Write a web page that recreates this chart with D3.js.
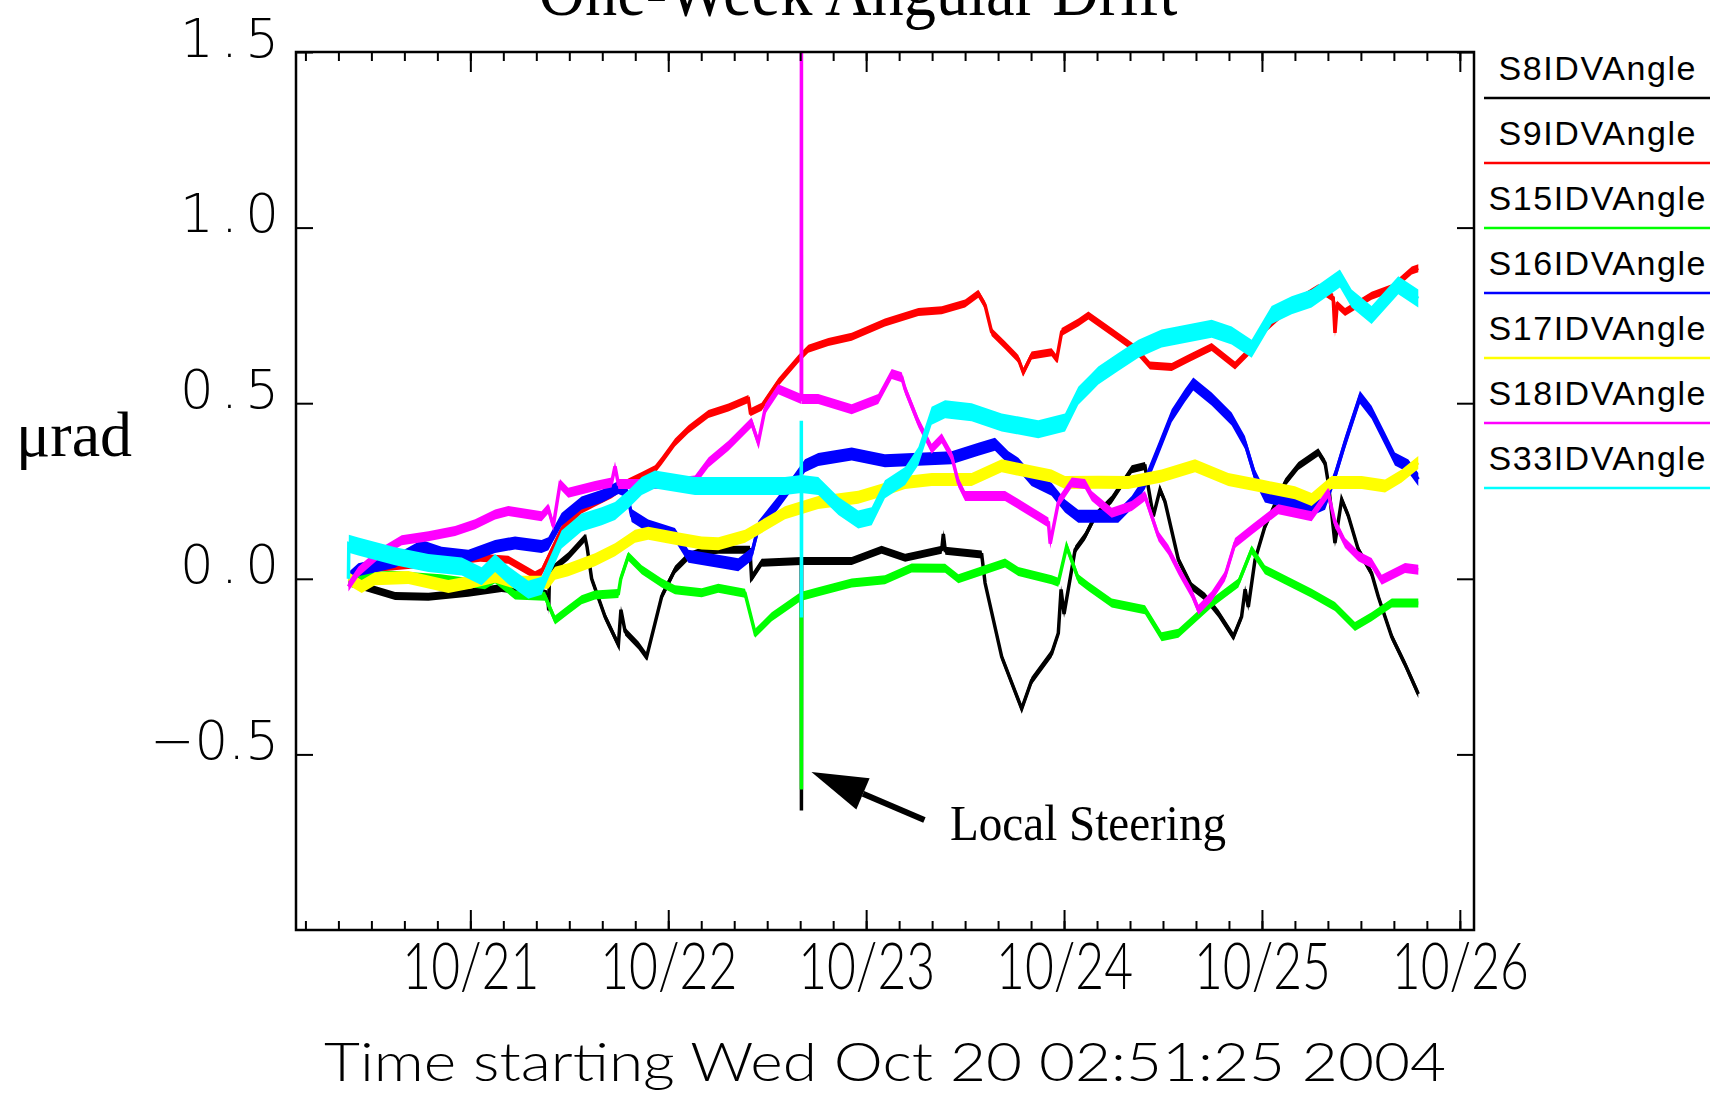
<!DOCTYPE html>
<html>
<head>
<meta charset="utf-8">
<script src="https://cdn.jsdelivr.net/npm/d3@7"></script>
<style>
  body { margin: 0; background: #fff; }
  svg { display: block; }
</style>
</head>
<body>
<div id="chart"></div>
<script>
/* global d3 */
// legend order is also the draw order
var seriesNames = ["S8IDVAngle", "S9IDVAngle", "S15IDVAngle", "S16IDVAngle", "S17IDVAngle", "S18IDVAngle", "S33IDVAngle"];
var seriesColors = ["#000000", "#ff0000", "#00ff00", "#0000ff", "#ffff00", "#ff00ff", "#00ffff"];

// points: [day of October 2004 (fractional, UTC), angle in urad]
var s8 = [[20.384, -0.01], [20.485, -0.026], [20.62, -0.049], [20.788, -0.051], [20.99, -0.04], [21.158, -0.026],
    [21.36, -0.04], [21.39, -0.045], [21.396, -0.09], [21.40, 0.02], [21.495, 0.064], [21.58, 0.117], [21.59, 0.09],
    [21.613, 0.0], [21.681, -0.108], [21.748, -0.188], [21.761, -0.088], [21.782, -0.15], [21.85, -0.19], [21.891, -0.222],
    [21.933, -0.127], [21.967, -0.05], [22.034, 0.026], [22.102, 0.064], [22.169, 0.078], [22.253, 0.083], [22.413, 0.083],
    [22.421, 0.002], [22.472, 0.046], [22.672, 0.051], [22.673, -0.66], [22.674, 0.051], [22.927, 0.051], [23.078, 0.083],
    [23.197, 0.06], [23.382, 0.083], [23.39, 0.128], [23.40, 0.08], [23.584, 0.069], [23.601, -0.012], [23.685, -0.222],
    [23.786, -0.37], [23.836, -0.29], [23.937, -0.213], [23.971, -0.155], [23.985, -0.03], [24.0, -0.1], [24.056, 0.083],
    [24.106, 0.121], [24.157, 0.178], [24.241, 0.226], [24.342, 0.312], [24.409, 0.321], [24.426, 0.26], [24.451, 0.178],
    [24.485, 0.254], [24.51, 0.22], [24.578, 0.054], [24.645, -0.022], [24.712, -0.051], [24.78, -0.099], [24.856, -0.165],
    [24.897, -0.108], [24.915, -0.03], [24.931, -0.08], [24.965, 0.054], [25.015, 0.149], [25.117, 0.274], [25.184, 0.321],
    [25.285, 0.36], [25.319, 0.33], [25.335, 0.274], [25.369, 0.102], [25.403, 0.226], [25.436, 0.18], [25.487, 0.083],
    [25.554, 0.016], [25.588, -0.051], [25.656, -0.165], [25.723, -0.243], [25.79, -0.328]];
var s9 = [[20.384, 0.0], [20.5, 0.03], [20.7, 0.04], [20.9, 0.05], [21.05, 0.06], [21.192, 0.054], [21.327, 0.01],
    [21.36, 0.02], [21.461, 0.14], [21.562, 0.197], [21.63, 0.217], [21.714, 0.241], [21.798, 0.274], [21.866, 0.293],
    [21.933, 0.312], [21.967, 0.336], [22.034, 0.388], [22.102, 0.426], [22.203, 0.469], [22.304, 0.488], [22.405, 0.512],
    [22.415, 0.474], [22.472, 0.49], [22.556, 0.56], [22.657, 0.626], [22.708, 0.655], [22.809, 0.674], [22.927, 0.689],
    [23.095, 0.73], [23.264, 0.76], [23.382, 0.765], [23.5, 0.784], [23.567, 0.812], [23.601, 0.779], [23.634, 0.703],
    [23.702, 0.665], [23.769, 0.626], [23.794, 0.588], [23.836, 0.636], [23.937, 0.645], [23.963, 0.626], [23.988, 0.703],
    [24.072, 0.73], [24.123, 0.75], [24.241, 0.703], [24.359, 0.655], [24.434, 0.607], [24.544, 0.603], [24.628, 0.627],
    [24.746, 0.66], [24.864, 0.607], [24.948, 0.655], [25.015, 0.712], [25.15, 0.78], [25.285, 0.827], [25.36, 0.8],
    [25.369, 0.7], [25.38, 0.78], [25.42, 0.76], [25.554, 0.806], [25.656, 0.827], [25.757, 0.878], [25.79, 0.884]];
var s15 = [[20.384, 0.0], [20.6, 0.01], [20.85, 0.0], [21.074, -0.017], [21.125, 0.0], [21.226, -0.046], [21.377, -0.05],
    [21.428, -0.117], [21.495, -0.088], [21.562, -0.06], [21.63, -0.046], [21.748, -0.042], [21.76, 0.0], [21.798, 0.064],
    [21.866, 0.026], [21.967, -0.012], [22.034, -0.031], [22.169, -0.04], [22.253, -0.027], [22.388, -0.041], [22.439, -0.155],
    [22.523, -0.108], [22.672, -0.05], [22.673, -0.6], [22.674, -0.05], [22.758, -0.037], [22.927, -0.012], [23.095, -0.003],
    [23.23, 0.031], [23.399, 0.03], [23.466, 0.0], [23.702, 0.045], [23.769, 0.021], [23.937, -0.003], [23.971, -0.01],
    [24.013, 0.092], [24.072, 0.0], [24.123, -0.022], [24.241, -0.069], [24.409, -0.088], [24.493, -0.165], [24.578, -0.155],
    [24.746, -0.069], [24.881, -0.012], [24.948, 0.083], [25.015, 0.026], [25.251, -0.041], [25.369, -0.079], [25.47, -0.136],
    [25.554, -0.108], [25.656, -0.069], [25.79, -0.069]];
var s16 = [[20.384, 0.0], [20.434, 0.026], [20.62, 0.05], [20.754, 0.092], [20.855, 0.073], [20.99, 0.064], [21.125, 0.092],
    [21.226, 0.102], [21.36, 0.092], [21.394, 0.1], [21.461, 0.169], [21.562, 0.216], [21.664, 0.235], [21.748, 0.26],
    [21.79, 0.25], [21.815, 0.18], [21.899, 0.15], [22.034, 0.126], [22.102, 0.064], [22.304, 0.045], [22.354, 0.04],
    [22.421, 0.07], [22.455, 0.146], [22.556, 0.217], [22.641, 0.283], [22.691, 0.322], [22.758, 0.34], [22.927, 0.355],
    [23.095, 0.336], [23.432, 0.345], [23.567, 0.369], [23.651, 0.383], [23.719, 0.345], [23.769, 0.326], [23.836, 0.283],
    [23.937, 0.255], [24.005, 0.207], [24.072, 0.178], [24.274, 0.178], [24.342, 0.217], [24.409, 0.274], [24.477, 0.369],
    [24.544, 0.464], [24.611, 0.522], [24.653, 0.555], [24.746, 0.512], [24.847, 0.455], [24.914, 0.388], [24.965, 0.293],
    [25.015, 0.236], [25.15, 0.217], [25.251, 0.198], [25.319, 0.215], [25.369, 0.293], [25.42, 0.388], [25.495, 0.517],
    [25.554, 0.474], [25.622, 0.398], [25.672, 0.341], [25.74, 0.321], [25.79, 0.283]];
var s17 = [[20.384, 0.0], [20.451, -0.022], [20.518, 0.0], [20.687, 0.004], [20.889, -0.022], [21.0, -0.01], [21.125, 0.007],
    [21.226, -0.01], [21.394, -0.01], [21.428, 0.016], [21.495, 0.026], [21.63, 0.054], [21.731, 0.083], [21.832, 0.121],
    [21.899, 0.13], [22.068, 0.112], [22.169, 0.102], [22.253, 0.1], [22.388, 0.121], [22.59, 0.188], [22.758, 0.217],
    [22.96, 0.232], [23.095, 0.255], [23.197, 0.274], [23.331, 0.283], [23.533, 0.283], [23.685, 0.322], [23.769, 0.312],
    [23.937, 0.293], [24.005, 0.274], [24.173, 0.275], [24.325, 0.274], [24.493, 0.293], [24.662, 0.322], [24.83, 0.283],
    [24.998, 0.264], [25.167, 0.245], [25.251, 0.226], [25.352, 0.274], [25.504, 0.274], [25.622, 0.264], [25.706, 0.293],
    [25.79, 0.331]];
var s18 = [[20.384, -0.022], [20.434, 0.02], [20.535, 0.07], [20.653, 0.11], [20.788, 0.121], [20.923, 0.136], [21.024, 0.155],
    [21.125, 0.183], [21.192, 0.193], [21.36, 0.178], [21.394, 0.2], [21.419, 0.15], [21.453, 0.27], [21.495, 0.245],
    [21.63, 0.264], [21.714, 0.274], [21.731, 0.32], [21.748, 0.27], [21.866, 0.27], [21.967, 0.27], [22.135, 0.28],
    [22.203, 0.331], [22.304, 0.379], [22.421, 0.445], [22.455, 0.388], [22.489, 0.483], [22.556, 0.54], [22.672, 0.512],
    [22.673, 1.6], [22.674, 0.512], [22.758, 0.512], [22.927, 0.483], [23.061, 0.512], [23.129, 0.583], [23.18, 0.574],
    [23.197, 0.54], [23.264, 0.445], [23.331, 0.37], [23.382, 0.4], [23.432, 0.35], [23.466, 0.274], [23.5, 0.236],
    [23.702, 0.236], [23.87, 0.178], [23.921, 0.16], [23.93, 0.1], [23.971, 0.217], [24.039, 0.274], [24.106, 0.27],
    [24.14, 0.236], [24.241, 0.188], [24.342, 0.207], [24.409, 0.236], [24.477, 0.121], [24.527, 0.083], [24.578, 0.026],
    [24.645, -0.041], [24.679, -0.088], [24.746, -0.05], [24.813, 0.007], [24.864, 0.102], [24.948, 0.14], [25.083, 0.198],
    [25.251, 0.178], [25.335, 0.245], [25.369, 0.16], [25.42, 0.102], [25.487, 0.064], [25.554, 0.045], [25.605, -0.003],
    [25.723, 0.031], [25.79, 0.026]];
var s33 = [[20.384, 0.0], [20.386, 0.1], [20.434, 0.092], [20.62, 0.064], [20.788, 0.045], [20.957, 0.035], [21.057, 0.007],
    [21.125, 0.045], [21.192, 0.01], [21.293, -0.031], [21.36, -0.02], [21.394, 0.026], [21.461, 0.112], [21.562, 0.16],
    [21.664, 0.178], [21.731, 0.193], [21.798, 0.226], [21.866, 0.264], [21.933, 0.283], [22.135, 0.264], [22.405, 0.264],
    [22.59, 0.264], [22.672, 0.27], [22.6725, 0.45], [22.673, -0.11], [22.674, 0.27], [22.758, 0.264], [22.86, 0.207],
    [22.96, 0.169], [23.028, 0.178], [23.095, 0.255], [23.197, 0.293], [23.264, 0.35], [23.331, 0.464], [23.399, 0.483],
    [23.533, 0.474], [23.685, 0.445], [23.87, 0.426], [24.005, 0.445], [24.072, 0.521], [24.14, 0.56], [24.173, 0.579],
    [24.274, 0.617], [24.376, 0.655], [24.493, 0.684], [24.746, 0.712], [24.847, 0.693], [24.948, 0.655], [25.049, 0.751],
    [25.15, 0.779], [25.251, 0.798], [25.394, 0.855], [25.453, 0.798], [25.554, 0.751], [25.689, 0.836], [25.79, 0.798]];

var seriesData = [s8, s9, s15, s16, s17, s18, s33];
var yTickValues = [-0.5, 0, 0.5, 1.0, 1.5];
var timeStart = new Date(Date.UTC(2004, 9, 20, 2, 51, 25));
var timeEnd = new Date(Date.UTC(2004, 9, 26, 1, 43, 0));
var steeringDay = 22.673;

// the traces are noisy, so each one is drawn as a band of fixed vertical height
var bandHalf = [4, 4, 4.5, 6.5, 6.5, 5, 9];

function dayToDate(d) {
    return new Date(Date.UTC(2004, 9, 1) + (d - 1) * 864e5);
}

var width = 1713,
    height = 1093;
var plot = { left: 296, top: 52, right: 1474, bottom: 930 };
var thinSans = "Lato, 'Liberation Sans', Arial, sans-serif";

var svg = d3.select("#chart")
    .append("svg")
    .attr("width", width)
    .attr("height", height);

var x = d3.scaleUtc()
    .domain([timeStart, timeEnd])
    .range([plot.left, plot.right]);

var y = d3.scaleLinear()
    .domain([-1, 1.5])
    .range([plot.bottom, plot.top]);

svg.append("clipPath")
    .attr("id", "plotClip")
    .append("rect")
    .attr("x", plot.left)
    .attr("y", plot.top)
    .attr("width", plot.right - plot.left)
    .attr("height", plot.bottom - plot.top);

// Draw the traces.
var gLines = svg.append("g").attr("clip-path", "url(#plotClip)");

seriesData.forEach(function(data, i) {
    var h = bandHalf[i];
    var band = d3.area()
        .x(function(d) { return x(dayToDate(d[0])); })
        .y0(function(d) { return y(d[1]) - h; })
        .y1(function(d) { return y(d[1]) + h; });
    var line = d3.line()
        .x(function(d) { return x(dayToDate(d[0])); })
        .y(function(d) { return y(d[1]); });

    gLines.append("path")
        .datum(data)
        .attr("d", band)
        .attr("fill", seriesColors[i]);
    gLines.append("path")
        .datum(data)
        .attr("d", line)
        .attr("fill", "none")
        .attr("stroke", seriesColors[i])
        .attr("stroke-width", 3.5);
});

// Axes, ticks pointing inward on all four sides.
function styleTicks(g) {
    g.select(".domain").remove();
    g.selectAll(".tick line").attr("stroke", "#000").attr("stroke-width", 2);
}

svg.append("g")
    .attr("transform", `translate(0,${plot.bottom})`)
    .call(d3.axisBottom(x).ticks(d3.utcHour.every(4)).tickSize(-9).tickFormat(""))
    .call(styleTicks);
svg.append("g")
    .attr("transform", `translate(0,${plot.top})`)
    .call(d3.axisTop(x).ticks(d3.utcHour.every(4)).tickSize(-9).tickFormat(""))
    .call(styleTicks);
svg.append("g")
    .attr("transform", `translate(0,${plot.top})`)
    .call(d3.axisTop(x).ticks(d3.utcDay.every(1)).tickSize(-20).tickFormat(""))
    .call(styleTicks);

var xAxis = svg.append("g")
    .attr("transform", `translate(0,${plot.bottom})`)
    .call(d3.axisBottom(x).ticks(d3.utcDay.every(1)).tickSize(-20).tickFormat(d3.utcFormat("%m/%d")))
    .call(styleTicks);
xAxis.selectAll("text")
    .attr("y", 59)
    .attr("dy", 0)
    .attr("fill", "#000")
    .attr("font-family", thinSans)
    .attr("font-weight", 300)
    .attr("font-size", 66)
    .attr("textLength", 137)
    .attr("lengthAdjust", "spacingAndGlyphs");

var yAxis = svg.append("g")
    .attr("transform", `translate(${plot.left},0)`)
    .call(d3.axisLeft(y).tickValues(yTickValues).tickSize(-17).tickPadding(17).tickFormat(d3.format(".1f")))
    .call(styleTicks);
yAxis.selectAll("text")
    .attr("dy", 4)
    .attr("fill", "#000")
    .attr("font-family", "'DejaVu Sans', sans-serif")
    .attr("font-weight", 200)
    .attr("font-size", 53)
    .attr("textLength", function(d) { return d < 0 ? 129 : 99; });

svg.append("g")
    .attr("transform", `translate(${plot.right},0)`)
    .call(d3.axisRight(y).tickValues(yTickValues).tickSize(-17).tickFormat(""))
    .call(styleTicks);

// Plot frame.
svg.append("rect")
    .attr("x", plot.left)
    .attr("y", plot.top)
    .attr("width", plot.right - plot.left)
    .attr("height", plot.bottom - plot.top)
    .attr("fill", "none")
    .attr("stroke", "#000")
    .attr("stroke-width", 2.5);

// Titles.
svg.append("text")
    .attr("x", 858)
    .attr("y", 15)
    .attr("text-anchor", "middle")
    .attr("font-family", "'Liberation Serif', 'Times New Roman', serif")
    .attr("font-size", 72)
    .attr("textLength", 639)
    .attr("lengthAdjust", "spacingAndGlyphs")
    .text("One-Week Angular Drift");

svg.append("text")
    .attr("x", 16)
    .attr("y", 456)
    .attr("font-family", "'Liberation Serif', 'Times New Roman', serif")
    .attr("font-size", 64)
    .text("\u03bcrad");

svg.append("text")
    .attr("x", (plot.left + plot.right) / 2)
    .attr("y", 1081)
    .attr("text-anchor", "middle")
    .attr("font-family", thinSans)
    .attr("font-weight", 300)
    .attr("font-size", 53)
    .attr("textLength", 1122)
    .attr("lengthAdjust", "spacingAndGlyphs")
    .text(d3.utcFormat("Time starting %a %b %d %H:%M:%S %Y")(timeStart));

// Legend.
var legend = svg.append("g");
seriesNames.forEach(function(name, i) {
    var ly = 98 + i * 65;
    legend.append("line")
        .attr("x1", 1484)
        .attr("x2", 1710)
        .attr("y1", ly)
        .attr("y2", ly)
        .attr("stroke", seriesColors[i])
        .attr("stroke-width", 2.5);
    legend.append("text")
        .attr("x", 1597)
        .attr("y", ly - 18)
        .attr("text-anchor", "middle")
        .attr("font-family", "'Liberation Sans', Arial, sans-serif")
        .attr("font-size", 34)
        .attr("textLength", name.length * 19.8 - 1)
        .text(name);
});

// Local steering annotation.
var tip = [x(dayToDate(steeringDay)) + 10, y(-0.55)];
var tail = [tip[0] + 113, tip[1] + 48];
var len = Math.hypot(tail[0] - tip[0], tail[1] - tip[1]);
var ux = (tail[0] - tip[0]) / len,
    uy = (tail[1] - tip[1]) / len;
var headLen = 56,
    headHalf = 17;
var base = [tip[0] + ux * headLen, tip[1] + uy * headLen];

svg.append("line")
    .attr("x1", base[0])
    .attr("y1", base[1])
    .attr("x2", tail[0])
    .attr("y2", tail[1])
    .attr("stroke", "#000")
    .attr("stroke-width", 6);
svg.append("polygon")
    .attr("points", [
        tip,
        [base[0] - uy * headHalf, base[1] + ux * headHalf],
        [base[0] + uy * headHalf, base[1] - ux * headHalf]
    ].map(function(p) { return p.join(","); }).join(" "))
    .attr("fill", "#000");

svg.append("text")
    .attr("x", 950)
    .attr("y", 840)
    .attr("font-family", "'Liberation Serif', 'Times New Roman', serif")
    .attr("font-size", 51)
    .attr("textLength", 276)
    .attr("lengthAdjust", "spacingAndGlyphs")
    .text("Local Steering");
</script>
</body>
</html>
